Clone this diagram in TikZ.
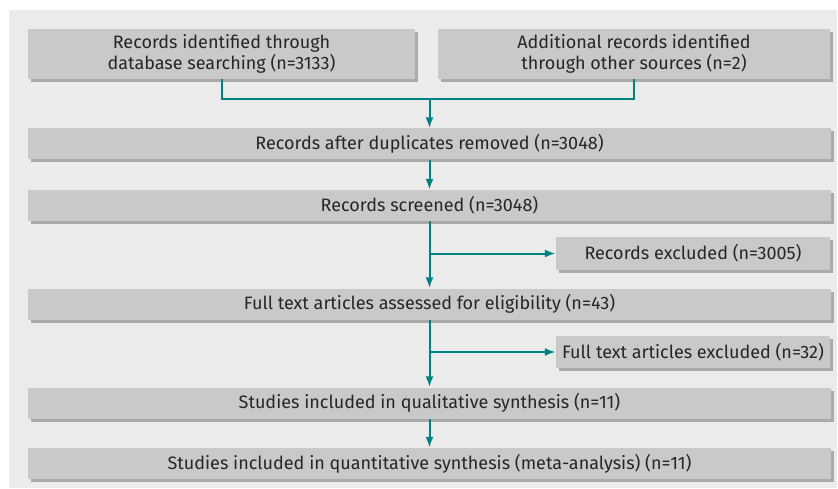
\documentclass[tikz,border=0pt]{standalone}
\usepackage{fontspec}
\setmainfont{Fira Sans}
\usetikzlibrary{arrows.meta,shadows}
\definecolor{flowteal}{RGB}{0,130,128}
\definecolor{boxgrey}{RGB}{201,201,201}
\definecolor{shadegrey}{RGB}{170,170,170}
\definecolor{panelgrey}{RGB}{235,235,235}
\definecolor{textgrey}{RGB}{38,38,38}

\begin{document}
\begin{tikzpicture}[x=1pt,y=-1pt,every node/.style = {shape = rectangle, fill = boxgrey, minimum width = 803pt, minimum height = 31pt, inner sep = 0pt, align = center, text = textgrey, font = \fontsize{18}{21}\selectfont, drop shadow = {shadow xshift = 3pt, shadow yshift = -3pt, fill = shadegrey, opacity = 1}},teal edge/.style = { -, line width = 2pt, flowteal},teal arrow/.style = { teal edge, -{Latex[length=11pt,width=8pt]}}]
\useasboundingbox (0,0) rectangle (838,489);
\fill[panelgrey] (9,10) rectangle (837,488);
\node(0;-1)[minimum width=387pt, minimum height=50pt] at (221.5,54) {Records identified through \\ database searching (n=3133)};
\node(0;1)[minimum width=392pt, minimum height=50pt] at (634,54) {Additional records identified \\ through other sources (n=2)};
\node(1;0) at (429.5,144) {Records after duplicates removed (n=3048)};
\node(2;0) at (429.5,205.5) {Records screened (n=3048)};
  \node(3;1)[minimum width=274pt, minimum height=33pt] at (693,253.5) {Records excluded (n=3005)};
\node(4;0) at (429.5,304) {Full text articles assessed for eligibility (n=43)};
  \node(5;1)[minimum width=274pt, minimum height=32pt] at (693,352) {Full text articles excluded (n=32)};
\node(6;0) at (429.5,403) {Studies included in qualitative synthesis (n=11)};
\node(7;0) at (429.5,463.5) {Studies included in quantitative synthesis (meta-analysis) (n=11)};
\coordinate (j;0) at (429.5,99);
\draw[teal edge] (0;-1.south) |- (j;0) -| (0;1.south);
\draw[teal arrow] (j;0) -- (1;0.north);
\foreach \j/\k in {1/2,2/4,4/6,6/7}
  { \draw[teal arrow] (\j;0.south) -- (\k;0.north); }
\foreach \i/\j in {2/3,4/5}
  { \draw[teal arrow] (\i;0.south |- \j;1.west) -- (\j;1.west); }
\end{tikzpicture}
\end{document}
